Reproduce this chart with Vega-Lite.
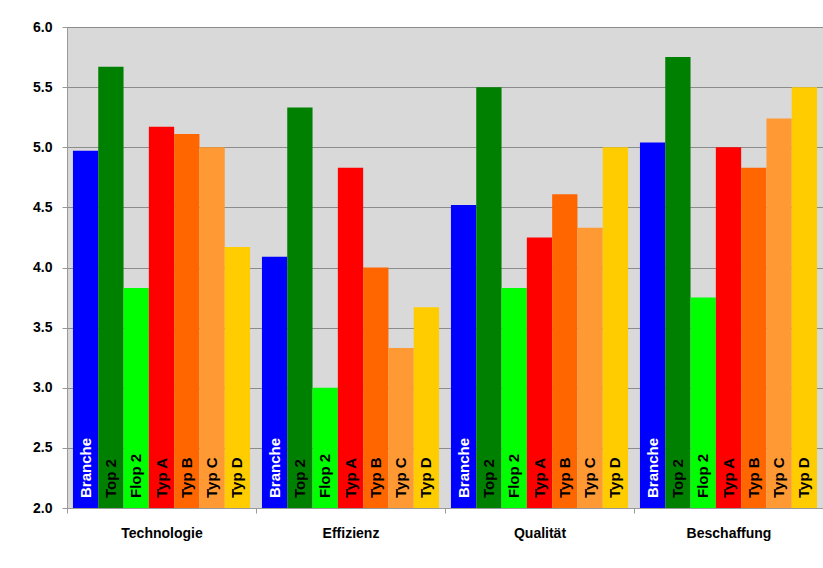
{
  "$schema": "https://vega.github.io/schema/vega-lite/v6.json",
  "width": 756,
  "height": 481,
  "autosize": {"type": "none"},
  "padding": {"left": 67, "top": 27, "right": 0, "bottom": 60},
  "background": "white",
  "config": {
    "view": {"fill": "#d9d9d9", "stroke": null},
    "font": "Liberation Sans"
  },
  "data": {
    "values": [
      {"group": "Technologie", "series": "Branche", "value": 4.97},
      {"group": "Technologie", "series": "Top 2", "value": 5.67},
      {"group": "Technologie", "series": "Flop 2", "value": 3.83},
      {"group": "Technologie", "series": "Typ A", "value": 5.17},
      {"group": "Technologie", "series": "Typ B", "value": 5.11},
      {"group": "Technologie", "series": "Typ C", "value": 5.0},
      {"group": "Technologie", "series": "Typ D", "value": 4.17},
      {"group": "Effizienz", "series": "Branche", "value": 4.09},
      {"group": "Effizienz", "series": "Top 2", "value": 5.33},
      {"group": "Effizienz", "series": "Flop 2", "value": 3.0},
      {"group": "Effizienz", "series": "Typ A", "value": 4.83},
      {"group": "Effizienz", "series": "Typ B", "value": 4.0},
      {"group": "Effizienz", "series": "Typ C", "value": 3.33},
      {"group": "Effizienz", "series": "Typ D", "value": 3.67},
      {"group": "Qualität", "series": "Branche", "value": 4.52},
      {"group": "Qualität", "series": "Top 2", "value": 5.5},
      {"group": "Qualität", "series": "Flop 2", "value": 3.83},
      {"group": "Qualität", "series": "Typ A", "value": 4.25},
      {"group": "Qualität", "series": "Typ B", "value": 4.61},
      {"group": "Qualität", "series": "Typ C", "value": 4.33},
      {"group": "Qualität", "series": "Typ D", "value": 5.0},
      {"group": "Beschaffung", "series": "Branche", "value": 5.04},
      {"group": "Beschaffung", "series": "Top 2", "value": 5.75},
      {"group": "Beschaffung", "series": "Flop 2", "value": 3.75},
      {"group": "Beschaffung", "series": "Typ A", "value": 5.0},
      {"group": "Beschaffung", "series": "Typ B", "value": 4.83},
      {"group": "Beschaffung", "series": "Typ C", "value": 5.24},
      {"group": "Beschaffung", "series": "Typ D", "value": 5.5}
    ]
  },
  "encoding": {
    "x": {
      "field": "group",
      "type": "nominal",
      "sort": ["Technologie", "Effizienz", "Qualität", "Beschaffung"],
      "scale": {"paddingInner": 0, "paddingOuter": 0},
      "axis": {
        "title": null,
        "labelAngle": 0,
        "labelFontSize": 14,
        "labelFontWeight": "bold",
        "labelColor": "black",
        "labelPadding": 13,
        "tickBand": "extent",
        "tickSize": 5,
        "tickColor": "#999999",
        "domainColor": "#999999",
        "grid": false
      }
    },
    "xOffset": {
      "field": "series",
      "type": "nominal",
      "sort": ["Branche", "Top 2", "Flop 2", "Typ A", "Typ B", "Typ C", "Typ D"],
      "scale": {"paddingInner": 0, "paddingOuter": 0.235}
    }
  },
  "layer": [
    {
      "mark": {"type": "bar"},
      "encoding": {
        "y": {
          "field": "value",
          "type": "quantitative",
          "scale": {"domain": [2, 6], "nice": false, "zero": false},
          "axis": {
            "title": null,
            "values": [2, 2.5, 3, 3.5, 4, 4.5, 5, 5.5, 6],
            "format": ".1f",
            "labelFontSize": 14,
            "labelFontWeight": "bold",
            "labelColor": "black",
            "labelPadding": 10,
            "tickSize": 5,
            "tickColor": "#999999",
            "domainColor": "#999999",
            "gridColor": "#8c8c8c",
            "gridWidth": 1.2
          }
        },
        "y2": {"datum": 2},
        "color": {
          "field": "series",
          "type": "nominal",
          "sort": ["Branche", "Top 2", "Flop 2", "Typ A", "Typ B", "Typ C", "Typ D"],
          "scale": {
            "domain": ["Branche", "Top 2", "Flop 2", "Typ A", "Typ B", "Typ C", "Typ D"],
            "range": ["#0000ff", "#008000", "#00ff00", "#ff0000", "#ff6600", "#ff9933", "#ffcc00"]
          },
          "legend": null
        }
      }
    },
    {
      "mark": {
        "type": "text",
        "angle": 270,
        "align": "left",
        "baseline": "middle",
        "dx": 10,
        "fontSize": 15,
        "fontWeight": "bold"
      },
      "encoding": {
        "y": {"datum": 2},
        "text": {"field": "series"},
        "color": {
          "condition": {"test": "datum.series === 'Branche'", "value": "white"},
          "value": "black"
        }
      }
    }
  ]
}
